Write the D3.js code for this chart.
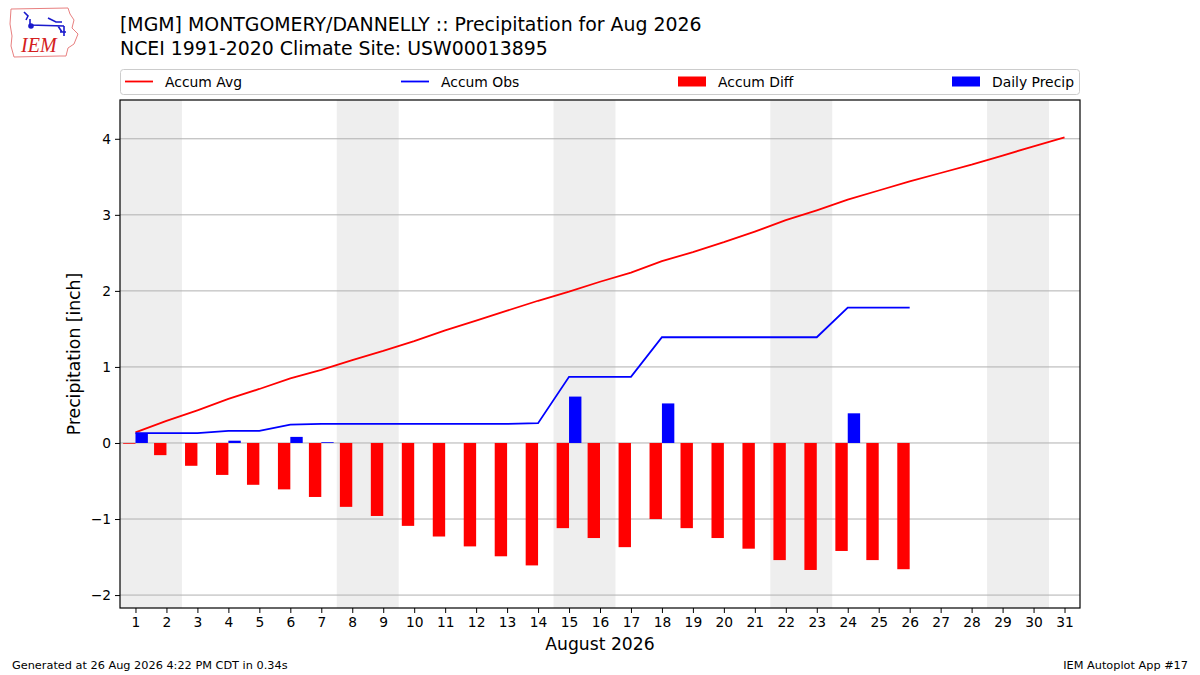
<!DOCTYPE html>
<html>
<head>
<meta charset="utf-8">
<script src="https://cdn.jsdelivr.net/npm/d3@7"></script>
<style>
  body { margin: 0; background: #fff; }
  text { font-family: "DejaVu Sans", sans-serif; fill: #000; }
</style>
</head>
<body>
<script>
// ------------------------------------------------------------------ data
var days = d3.range(1, 32);
// accumulated climatology (inch)
var accumAvg = [0.14, 0.29, 0.43, 0.58, 0.71, 0.85, 0.96, 1.09, 1.21, 1.34,
                1.48, 1.61, 1.74, 1.87, 1.99, 2.12, 2.24, 2.39, 2.51, 2.64,
                2.78, 2.93, 3.06, 3.20, 3.32, 3.44, 3.55, 3.66, 3.78, 3.90, 4.02];
// accumulated observed (through day 26)
var accumObs = [0.13, 0.13, 0.13, 0.16, 0.16, 0.24, 0.25, 0.25, 0.25, 0.25,
                0.25, 0.25, 0.25, 0.26, 0.87, 0.87, 0.87, 1.39, 1.39, 1.39,
                1.39, 1.39, 1.39, 1.78, 1.78, 1.78];
var dailyPrecip = [0.13, 0, 0, 0.03, 0, 0.08, 0.01, 0, 0, 0,
                   0, 0, 0, 0, 0.61, 0, 0, 0.52, 0, 0,
                   0, 0, 0, 0.39, 0, 0];
var weekends = [[1, 2], [8, 9], [15, 16], [22, 23], [29, 30]];
var yTicks = [-2, -1, 0, 1, 2, 3, 4];

var accumDiff = accumObs.map(function(v, i){ return v - accumAvg[i]; });

// ------------------------------------------------------------------ layout
var W = 1200, H = 675;
var plot = { x: 120, y: 100, w: 960, h: 508 };

var svg = d3.select("body").append("svg").attr("width", W).attr("height", H);

var x = d3.scaleLinear().domain([0.5, 31.5]).range([plot.x, plot.x + plot.w]);
var y = d3.scaleLinear().domain([-2.17, 4.51]).range([plot.y + plot.h, plot.y]);
var barW = x(0.4) - x(0);

// weekend shading
svg.append("g").selectAll("rect").data(weekends).enter().append("rect")
  .attr("x", function(d){ return x(d[0] - 0.5); })
  .attr("y", plot.y)
  .attr("width", function(d){ return x(d[1] + 0.5) - x(d[0] - 0.5); })
  .attr("height", plot.h)
  .attr("fill", "#eeeeee");

// grid
svg.append("g").selectAll("line").data(yTicks).enter().append("line")
  .attr("x1", plot.x).attr("x2", plot.x + plot.w)
  .attr("y1", function(d){ return y(d); }).attr("y2", function(d){ return y(d); })
  .attr("stroke", "#b0b0b0").attr("stroke-width", 1);

// accum diff bars (left of day)
svg.append("g").selectAll("rect").data(accumDiff).enter().append("rect")
  .attr("x", function(d, i){ return x(days[i]) - barW; })
  .attr("y", function(d){ return y(Math.max(0, d)); })
  .attr("width", barW)
  .attr("height", function(d){ return Math.abs(y(d) - y(0)); })
  .attr("fill", "#ff0000");

// daily precip bars (right of day)
svg.append("g").selectAll("rect").data(dailyPrecip).enter().append("rect")
  .attr("x", function(d, i){ return x(days[i]); })
  .attr("y", function(d){ return y(d); })
  .attr("width", barW)
  .attr("height", function(d){ return y(0) - y(d); })
  .attr("fill", "#0000ff");

var line = d3.line()
  .x(function(d, i){ return x(days[i]); })
  .y(function(d){ return y(d); });

svg.append("path").datum(accumAvg).attr("d", line)
  .attr("fill", "none").attr("stroke", "#ff0000").attr("stroke-width", 1.8);
svg.append("path").datum(accumObs).attr("d", line)
  .attr("fill", "none").attr("stroke", "#0000ff").attr("stroke-width", 1.8);

// frame
svg.append("rect").attr("x", plot.x).attr("y", plot.y)
  .attr("width", plot.w).attr("height", plot.h)
  .attr("fill", "none").attr("stroke", "#000").attr("stroke-width", 1.2);

// axes
var xAxis = d3.axisBottom(x).tickValues(days).tickSize(5).tickPadding(4);
var gx = svg.append("g").attr("transform", "translate(0," + (plot.y + plot.h) + ")").call(xAxis);
gx.select(".domain").remove();
gx.selectAll("text").style("font-size", "13.8px").style("font-family", "DejaVu Sans");

var yAxis = d3.axisLeft(y).tickValues(yTicks).tickSize(5).tickPadding(4)
  .tickFormat(function(d){ return d < 0 ? "\u2212" + Math.abs(d) : d; });
var gy = svg.append("g").attr("transform", "translate(" + plot.x + ",0)").call(yAxis);
gy.select(".domain").remove();
gy.selectAll("text").style("font-size", "13.8px").style("font-family", "DejaVu Sans");

svg.append("text").attr("x", plot.x + plot.w / 2).attr("y", 650)
  .attr("text-anchor", "middle").style("font-size", "17.2px").text("August 2026");
svg.append("text").attr("transform", "translate(80," + (plot.y + plot.h / 2) + ") rotate(-90)")
  .attr("text-anchor", "middle").style("font-size", "17.2px").text("Precipitation [inch]");

// titles
svg.append("text").attr("x", 120).attr("y", 31).style("font-size", "18.9px")
  .text("[MGM] MONTGOMERY/DANNELLY :: Precipitation for Aug 2026");
svg.append("text").attr("x", 120).attr("y", 55).style("font-size", "18.9px")
  .text("NCEI 1991-2020 Climate Site: USW00013895");

// legend
var legend = svg.append("g");
legend.append("rect").attr("x", 120.5).attr("y", 69.5).attr("width", 959).attr("height", 25)
  .attr("rx", 3).attr("fill", "#fff").attr("stroke", "#cccccc");
var items = [
  { name: "Accum Avg", kind: "line", color: "#ff0000", x: 125 },
  { name: "Accum Obs", kind: "line", color: "#0000ff", x: 401 },
  { name: "Accum Diff", kind: "box", color: "#ff0000", x: 678 },
  { name: "Daily Precip", kind: "box", color: "#0000ff", x: 952 }
];
items.forEach(function(it){
  if (it.kind == "line") {
    legend.append("line").attr("x1", it.x).attr("x2", it.x + 28).attr("y1", 81.5).attr("y2", 81.5)
      .attr("stroke", it.color).attr("stroke-width", 1.8);
  } else {
    legend.append("rect").attr("x", it.x).attr("y", 76.5).attr("width", 28).attr("height", 10)
      .attr("fill", it.color);
  }
  legend.append("text").attr("x", it.x + 40).attr("y", 86.5).style("font-size", "13.9px").text(it.name);
});

// footer
svg.append("text").attr("x", 12).attr("y", 669).style("font-size", "11.3px")
  .text("Generated at 26 Aug 2026 4:22 PM CDT in 0.34s");
svg.append("text").attr("x", 1188).attr("y", 669).attr("text-anchor", "end").style("font-size", "11.3px")
  .text("IEM Autoplot App #17");

// logo (rough)
var logo = svg.append("g").attr("transform", "translate(8,6)");
logo.append("path")
  .attr("d", "M3,3 L60,2 L62,8 L66,14 L64,22 L70,28 L66,38 L60,42 L58,50 L52,50 L6,51 L3,40 L4,30 L2,18 Z")
  .attr("fill", "#fff").attr("stroke", "#e88080").attr("stroke-width", 1);
logo.append("path").attr("d", "M16,6 L20,10 L18,14 M22,13 L22,19 L56,20 M40,12 L48,16 L54,16 M50,20 L54,26 M56,20 L56,30 M52,26 L58,26")
  .attr("fill", "none").attr("stroke", "#1a1acc").attr("stroke-width", 1.6);
logo.append("circle").attr("cx", 23).attr("cy", 20).attr("r", 2.8).attr("fill", "#1a1acc");
logo.append("text").attr("x", 13).attr("y", 46)
  .style("font-family", "Liberation Serif, serif").style("font-style", "italic")
  .style("font-size", "20px").style("fill", "#d42020").text("IEM");
</script>
</body>
</html>
